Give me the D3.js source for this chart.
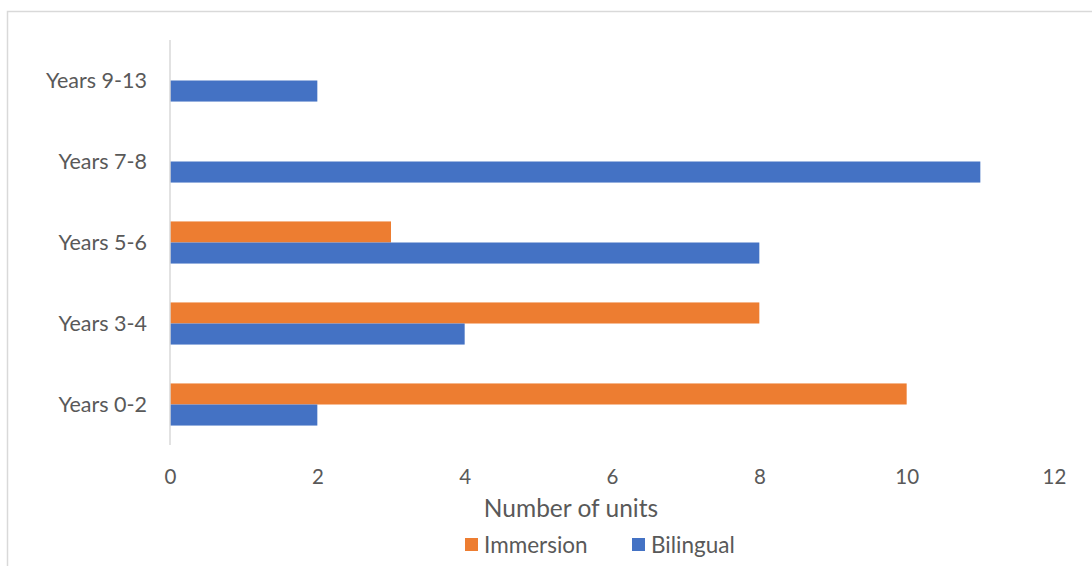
<!DOCTYPE html>
<html><head><meta charset="utf-8">
<script src="https://cdn.jsdelivr.net/npm/d3@7"></script>
<style>body{margin:0;background:#fff}svg{display:block}text{font-family:Lato,"Open Sans",sans-serif;fill:#595959}</style>
</head><body><svg id="c" width="1092" height="566"></svg>
<script>
const categories = ["Years 0-2","Years 3-4","Years 5-6","Years 7-8","Years 9-13"];
const immersion = [10, 8, 3, 0, 0];
const bilingual = [2, 4, 8, 11, 2];
const seriesNames = ["Immersion","Bilingual"];
const seriesColors = ["#ED7D31","#4472C4"];
const xTicks = [0,2,4,6,8,10,12];

const svg = d3.select("#c");
svg.append("rect").attr("x",7.5).attr("y",11.5).attr("width",1100).attr("height",600)
  .attr("fill","none").attr("stroke","#d9d9d9").attr("stroke-width",1.5);

const x = d3.scaleLinear().domain([0,12]).range([170,1054]);
const y = d3.scaleBand().domain(categories.slice().reverse()).range([40,445]).paddingInner(0.48).paddingOuter(0.24);
const sub = d3.scaleBand().domain(seriesNames).range([0,y.bandwidth()]);

const data = categories.map((c,i)=>({c, vals:[immersion[i], bilingual[i]]}));
const g = svg.append("g");
data.forEach(d=>{
  d.vals.forEach((v,j)=>{
    if(v<=0) return;
    g.append("rect").attr("x",x(0)).attr("y",y(d.c)+sub(seriesNames[j]))
      .attr("width",x(v)-x(0)).attr("height",sub.bandwidth()).attr("fill",seriesColors[j]);
  });
});

// axis line
svg.append("line").attr("x1",x(0)).attr("x2",x(0)).attr("y1",40).attr("y2",445)
  .attr("stroke","#d9d9d9").attr("stroke-width",1.5);

// category labels
categories.forEach(c=>{
  svg.append("text").attr("x",147).attr("y",y(c)+y.bandwidth()/2).attr("dy","0.35em")
    .attr("text-anchor","end").attr("font-size",21.5).text(c);
});
// x tick labels
const xa = d3.axisBottom(x).tickValues(xTicks).tickSize(0).tickPadding(0);
const axg = svg.append("g").attr("transform","translate(0,469)").call(xa);
axg.select(".domain").remove();
axg.selectAll("text").attr("font-size",20.5).attr("fill","#595959").attr("font-family","Lato,'Open Sans',sans-serif");

svg.append("text").attr("x",571).attr("y",508).attr("dy","0.35em").attr("text-anchor","middle")
  .attr("font-size",24.5).text("Number of units");

// legend
const legX = [465, 632];
seriesNames.forEach((n,i)=>{
  svg.append("rect").attr("x",legX[i]).attr("y",538).attr("width",13).attr("height",13).attr("fill",seriesColors[i]);
  svg.append("text").attr("x",legX[i]+19).attr("y",545).attr("dy","0.35em").attr("font-size",22.5).text(n);
});
</script></body></html>
